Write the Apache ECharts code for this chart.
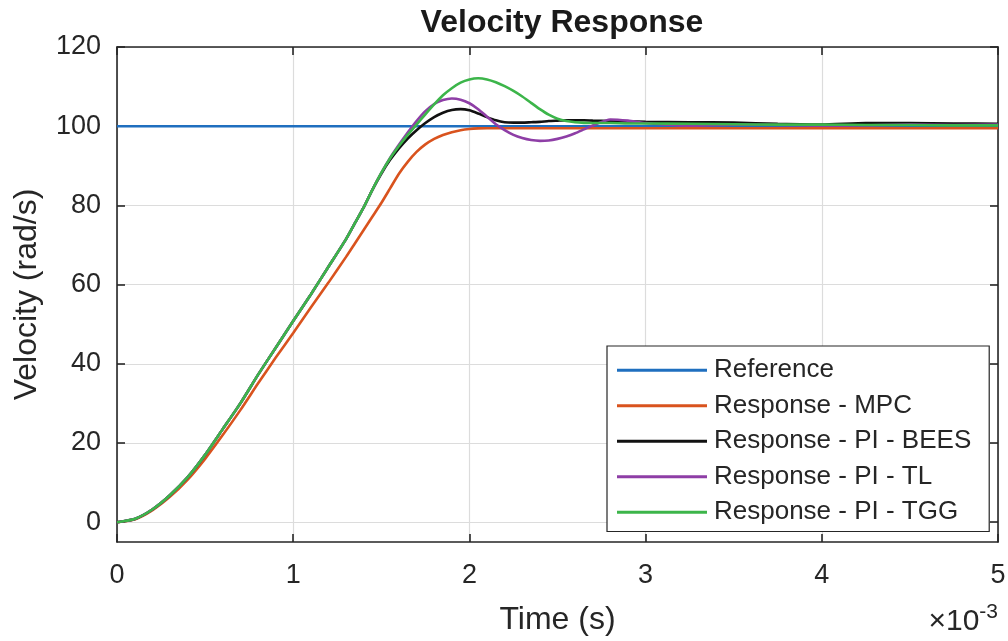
<!DOCTYPE html>
<html>
<head>
<meta charset="utf-8">
<script src="https://cdn.jsdelivr.net/npm/echarts@6/dist/echarts.min.js"></script>
<style>
html,body{margin:0;padding:0;background:#fff;}
#chart{width:1008px;height:641px;}
</style>
</head>
<body>
<div id="chart"></div>
<script>
// time in units of 1e-3 s
const timeMs = [0,0.1,0.2,0.3,0.4,0.5,0.6,0.7,0.8,0.9,1.0,1.1,1.2,1.3,
  1.35,1.4,1.45,1.5,1.55,1.6,1.65,1.7,1.75,1.8,1.85,1.9,1.95,2.0,2.05,2.1,2.15,2.2,2.25,2.3,2.35,2.4,2.45,2.5,2.55,2.6,2.65,2.7,
  2.8,2.9,3.0,3.25,3.5,3.75,4.0,4.25,4.5,4.75,5.0];

const reference = timeMs.map(() => 100);

const mpc = [0,0.7,3,6.4,10.7,16,22,28.3,35,41.5,47.8,54.2,60.5,67,
  70.4,73.8,77.2,80.6,84.3,88.0,91.0,93.5,95.4,96.8,97.8,98.5,99.0,99.3,99.45,99.5,99.5,99.5,99.5,99.5,99.5,99.5,99.5,99.5,99.5,99.5,99.5,99.5,
  99.5,99.5,99.5,99.5,99.5,99.5,99.5,99.5,99.5,99.5,99.5];

const bees = [0,0.8,3.2,6.8,11.3,17,23.5,30,37.2,44,50.8,57.5,64.5,71.5,
  75.5,79.5,84,88.0,91.5,94.4,96.9,99.0,100.8,102.3,103.4,104.1,104.3,104.0,103.2,102.3,101.5,101.0,100.9,100.9,101.0,101.1,101.3,101.4,101.5,101.5,101.5,101.4,
  101.3,101.2,101.1,101.0,100.9,100.6,100.4,100.8,100.8,100.7,100.6];

const tl = [0,0.8,3.2,6.8,11.3,17,23.5,30,37.2,44,50.8,57.5,64.5,71.5,
  75.5,79.5,84,88.2,92.0,95.3,98.4,101.3,103.8,105.6,106.6,107.0,106.7,105.8,104.3,102.4,100.5,99.0,97.8,97.0,96.5,96.3,96.4,96.8,97.4,98.2,99.2,100.2,
  101.7,101.4,100.8,100.1,100.4,100.3,100.1,100.2,100.4,100.3,100.4];

const tgg = [0,0.8,3.2,6.8,11.3,17,23.5,30,37.2,44,50.8,57.5,64.5,71.5,
  75.5,79.5,84,88.2,91.9,95.0,97.8,100.4,103.0,105.5,107.8,109.6,111.0,111.8,112.1,111.8,111.1,110.1,108.9,107.5,105.9,104.3,102.9,101.9,101.3,101.0,100.85,100.8,
  100.8,100.7,100.7,100.6,100.5,100.4,100.4,100.3,100.3,100.2,100.2];

const seriesNames = ['Reference','Response - MPC','Response - PI - BEES','Response - PI - TL','Response - PI - TGG'];
const seriesValues = [reference, mpc, bees, tl, tgg];
const seriesColors = ['#1f6fbf','#d9531e','#111111','#8e3ea6','#3cb54a'];

const xTicks = [0,1,2,3,4,5];
const yTicks = [0,20,40,60,80,100,120];

const textColor = '#262626';
const fontFam = '"Liberation Sans", Arial, Helvetica, sans-serif';

const chart = echarts.init(document.getElementById('chart'), null, {renderer:'canvas'});

const series = seriesNames.map((name, i) => ({
  name: name,
  type: 'line',
  xAxisIndex: 0,
  yAxisIndex: 0,
  showSymbol: false,
  symbol: 'none',
  smooth: 0.2,
  lineStyle: {color: seriesColors[i], width: 2.6},
  itemStyle: {color: seriesColors[i]},
  data: timeMs.map((t, k) => [t, seriesValues[i][k]]),
  z: 2 + i
}));

const axisLineStyle = {color: '#262626', width: 1.6};

const option = {
  backgroundColor: '#ffffff',
  animation: false,
  title: {
    text: 'Velocity Response',
    left: 557, top: 2, textAlign: 'center',
    textStyle: {fontFamily: fontFam, fontSize: 32, fontWeight: 'bold', color: '#1a1a1a'}
  },
  grid: {left: 117, right: 10, top: 47, bottom: 99, containLabel: false, outerBoundsMode: 'none'},
  xAxis: [{
    type: 'value', min: 0, max: 5, interval: 1, position: 'bottom',
    name: 'Time (s)', nameLocation: 'middle', nameGap: 62,
    nameTextStyle: {fontFamily: fontFam, fontSize: 32, color: textColor},
    axisLine: {show: true, onZero: false, lineStyle: axisLineStyle},
    axisTick: {show: true, inside: true, length: 8, lineStyle: axisLineStyle},
    axisLabel: {fontFamily: fontFam, fontSize: 27, color: textColor, margin: 20},
    splitLine: {show: true, lineStyle: {color: '#dcdcdc', width: 1.2}}
  }, {
    type: 'value', min: 0, max: 5, interval: 1, position: 'top',
    axisLine: {show: true, onZero: false, lineStyle: axisLineStyle},
    axisTick: {show: true, inside: true, length: 8, lineStyle: axisLineStyle},
    axisLabel: {show: false},
    splitLine: {show: false}
  }],
  yAxis: [{
    type: 'value', min: -5, max: 120, position: 'left',
    name: 'Velocity (rad/s)', nameLocation: 'middle', nameGap: 74, nameRotate: 90,
    nameTextStyle: {fontFamily: fontFam, fontSize: 32, color: textColor},
    axisLine: {show: true, onZero: false, lineStyle: axisLineStyle},
    axisTick: {show: true, inside: true, length: 8, customValues: yTicks, lineStyle: axisLineStyle},
    axisLabel: {fontFamily: fontFam, fontSize: 27, color: textColor, margin: 16, customValues: yTicks},
    splitLine: {show: true, lineStyle: {color: '#dcdcdc', width: 1.2}}
  }, {
    type: 'value', min: -5, max: 120, position: 'right',
    axisLine: {show: true, onZero: false, lineStyle: axisLineStyle},
    axisTick: {show: true, inside: true, length: 8, customValues: yTicks, lineStyle: axisLineStyle},
    axisLabel: {show: false, customValues: yTicks},
    splitLine: {show: false}
  }],
  legend: {
    orient: 'vertical',
    left: 607, top: 346,
    data: seriesNames,
    icon: 'rect',
    itemWidth: 90, itemHeight: 3,
    itemGap: 7,
    padding: [10, 18, 5, 10],
    backgroundColor: '#ffffff',
    borderColor: '#262626', borderWidth: 1.2, borderRadius: 0,
    textStyle: {fontFamily: fontFam, fontSize: 26, color: textColor, lineHeight: 28.5, padding: [0,0,0,2]},
    itemStyle: {borderWidth: 0}
  },
  graphic: [{
    type: 'text',
    right: 10, bottom: 4,
    style: {
      text: '{a|×10}{b|-3}',
      rich: {
        a: {fontFamily: fontFam, fontSize: 30, fill: textColor, verticalAlign: 'bottom'},
        b: {fontFamily: fontFam, fontSize: 21, fill: textColor, verticalAlign: 'top', padding: [0,0,14,0]}
      }
    }
  }],
  series: series
};
chart.setOption(option);
</script>
</body>
</html>
